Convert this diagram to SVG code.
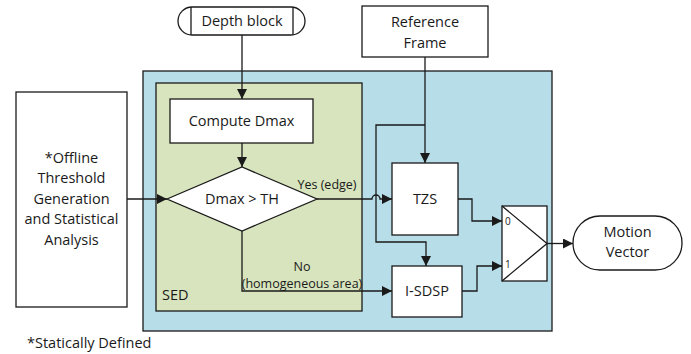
<svg xmlns="http://www.w3.org/2000/svg" width="691" height="354" viewBox="0 0 691 354">
<style>
.box{fill:#fff;stroke:#1a1a1a;stroke-width:1.3}
.t{font-family:"Open Sans","Liberation Sans",sans-serif;font-size:14.5px;fill:#1a1a1a;text-anchor:middle}
.s{font-size:12.5px}
.l{text-anchor:start}
.c{fill:none;stroke:#1a1a1a;stroke-width:1.3}
</style>
<defs>
<marker id="ah" viewBox="0 0 10 10" refX="10" refY="5" markerWidth="10" markerHeight="10" markerUnits="userSpaceOnUse" orient="auto">
<path d="M0,0 L10,5 L0,10 z" fill="#1a1a1a"/>
</marker>
</defs>
<rect x="0" y="0" width="691" height="354" fill="#fff"/>
<g id="outer">
<rect x="143" y="71" width="409" height="260" fill="#b7dde8" stroke="#1a1a1a" stroke-width="1.3"/>
</g>
<g id="sed">
<rect x="156" y="83" width="206" height="228" fill="#d7e4bd" stroke="#1a1a1a" stroke-width="1.3"/>
<text class="t l" x="162" y="300">SED</text>
</g>
<g id="depth">
<rect class="box" x="178" y="7" width="127" height="28" rx="14"/>
<line class="c" x1="191" y1="7" x2="191" y2="35"/>
<line class="c" x1="293" y1="7" x2="293" y2="35"/>
<text class="t" x="242" y="26">Depth block</text>
</g>
<g id="ref">
<rect class="box" x="362" y="6" width="126" height="51"/>
<text class="t" x="425" y="27">Reference</text>
<text class="t" x="425" y="48">Frame</text>
</g>
<g id="offline">
<rect class="box" x="16" y="92" width="111" height="215"/>
<text class="t" x="71.5" y="163">*Offline</text>
<text class="t" x="71.5" y="183">Threshold</text>
<text class="t" x="71.5" y="203.5">Generation</text>
<text class="t" x="71.5" y="224">and Statistical</text>
<text class="t" x="71.5" y="244.5">Analysis</text>
</g>
<g id="compute">
<rect class="box" x="170" y="99" width="143" height="44"/>
<text class="t" x="241.5" y="126">Compute Dmax</text>
</g>
<g id="decision">
<polygon class="box" points="167,199 242,167 317,199 242,231"/>
<text class="t" x="242" y="204">Dmax &gt; TH</text>
</g>
<g id="tzs">
<rect class="box" x="392" y="163" width="66" height="72"/>
<text class="t" x="425" y="204">TZS</text>
</g>
<g id="isdsp">
<rect class="box" x="392" y="266" width="70" height="51"/>
<text class="t" x="427" y="296">I-SDSP</text>
</g>
<g id="mux">
<rect class="box" x="502" y="206" width="45" height="75"/>
<polyline class="c" points="502,206 547,243.5 502,281"/>
<text class="t l" x="505" y="225" style="font-size:10px">0</text>
<text class="t l" x="505" y="268" style="font-size:10px">1</text>
</g>
<g id="motion">
<rect class="box" x="573" y="216" width="109" height="54" rx="27"/>
<text class="t" x="627.5" y="237">Motion</text>
<text class="t" x="627.5" y="257">Vector</text>
</g>
<g id="connectors">
<path class="c" d="M242,35 V99" marker-end="url(#ah)"/>
<path class="c" d="M242,143 V167" marker-end="url(#ah)"/>
<path class="c" d="M127,199 H167" marker-end="url(#ah)"/>
<path class="c" d="M317,199 H372 a4,4 0 0 1 8,0 H392" marker-end="url(#ah)"/>
<path class="c" d="M242,231 V291 H392" marker-end="url(#ah)"/>
<path class="c" d="M425,57 V163" marker-end="url(#ah)"/>
<path class="c" d="M425,125 H376 V242 H426 V266" marker-end="url(#ah)"/>
<path class="c" d="M458,199 H472 V221 H502" marker-end="url(#ah)"/>
<path class="c" d="M462,291 H477 V266 H502" marker-end="url(#ah)"/>
<path class="c" d="M547,243.5 H573" marker-end="url(#ah)"/>
<text class="t s" x="327" y="189">Yes (edge)</text>
<text class="t s" x="302" y="271">No</text>
<text class="t s" x="302" y="288">(homogeneous area)</text>
</g>
<text class="t l" x="27" y="348">*Statically Defined</text>
</svg>
